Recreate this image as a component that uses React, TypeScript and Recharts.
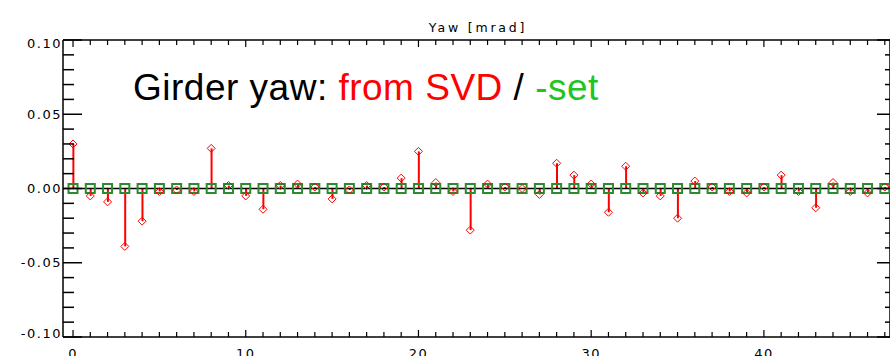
import React from 'react';
import { ComposedChart, XAxis, YAxis, Bar, Scatter, ReferenceLine } from 'recharts';

// girder number along the line
const girderIndex = [
  0, 1, 2, 3, 4, 5, 6, 7, 8, 9, 10, 11, 12, 13, 14, 15, 16, 17, 18, 19, 20, 21, 22, 23,
  24, 25, 26, 27, 28, 29, 30, 31, 32, 33, 34, 35, 36, 37, 38, 39, 40, 41, 42, 43, 44, 45, 46, 47,
];

// yaw reconstructed from SVD [mrad]
const svdYaw = [
  0.030, -0.005, -0.009, -0.039, -0.022, -0.002, -0.001, -0.002, 0.027, 0.002, -0.005, -0.014,
  0.002, 0.003, 0.001, -0.007, -0.001, 0.002, 0.001, 0.007, 0.025, 0.004, -0.002, -0.028,
  0.003, 0.001, 0.000, -0.004, 0.017, 0.009, 0.003, -0.016, 0.015, -0.003, -0.005, -0.020,
  0.005, 0.001, -0.002, -0.003, 0.001, 0.009, -0.002, -0.013, 0.004, -0.002, -0.003, 0.001,
];

// minus the set yaw [mrad]
const setYaw = [
  0, 0, 0, 0, 0, 0, 0, 0, 0, 0, 0, 0, 0, 0, 0, 0, 0, 0, 0, 0, 0, 0, 0, 0,
  0, 0, 0, 0, 0, 0, 0, 0, 0, 0, 0, 0, 0, 0, 0, 0, 0, 0, 0, 0, 0, 0, 0, 0,
];

const xTicks = girderIndex;
const yTicks = [
  -0.1, -0.09, -0.08, -0.07, -0.06, -0.05, -0.04, -0.03, -0.02, -0.01, 0,
  0.01, 0.02, 0.03, 0.04, 0.05, 0.06, 0.07, 0.08, 0.09, 0.1,
];

const data = girderIndex.map((g, i) => ({ idx: g, svd: svdYaw[i], set: setYaw[i] }));

const FONT = '"DejaVu Sans", sans-serif';
const RED = '#ff0000';
const GREEN = '#2a8c2a';

const isMajorY = (v: number) => Math.round(v * 100) % 5 === 0;

const BottomTick = ({ x, y, payload }: any) => {
  const major = payload.value % 10 === 0;
  return (
    <g>
      <line x1={x} x2={x} y1={y} y2={y - (major ? 7 : 5)} stroke="#000" strokeWidth={1.2} />
      {major && (
        <text x={x} y={y + 21} textAnchor="middle" fontSize={13} fontFamily={FONT} letterSpacing={1.5}>
          {payload.value}
        </text>
      )}
    </g>
  );
};

const TopTick = ({ x, y, payload }: any) => {
  const major = payload.value % 10 === 0;
  return <line x1={x} x2={x} y1={y} y2={y + (major ? 7 : 5)} stroke="#000" strokeWidth={1.2} />;
};

const LeftTick = ({ x, y, payload }: any) => {
  const v = payload.value;
  const major = isMajorY(v);
  const off = v > 0.095 ? 3 : v < -0.095 ? -3.5 : 0;
  return (
    <g>
      <line x1={x} x2={x + (major ? 19 : 11)} y1={y} y2={y} stroke="#000" strokeWidth={1.5} />
      {major && (
        <text x={x - 1} y={y + off} textAnchor="end" dominantBaseline="central" fontSize={13}
          fontFamily={FONT} letterSpacing={1.5}>
          {v.toFixed(2)}
        </text>
      )}
    </g>
  );
};

const RightTick = ({ x, y, payload }: any) => {
  const major = isMajorY(payload.value);
  return <line x1={x} x2={x - (major ? 13 : 5)} y1={y} y2={y} stroke="#000" strokeWidth={1.5} />;
};

const Diamond = ({ cx, cy }: any) => (
  <path d={`M${cx},${cy - 4} L${cx + 4},${cy} L${cx},${cy + 4} L${cx - 4},${cy} Z`}
    fill="none" stroke={RED} strokeWidth={1} />
);

const Square = ({ cx, cy }: any) => (
  <rect x={cx - 4.5} y={cy - 4.5} width={9} height={9} fill="none" stroke={GREEN} strokeWidth={2} />
);

const Empty = () => <g />;

const axisLine = { stroke: '#000', strokeWidth: 1.5 };

export default function App() {
  return (
    <div style={{ position: 'absolute', left: 0, top: 0, width: 890, height: 356, overflow: 'hidden', background: '#fff' }}>
      <ComposedChart width={892} height={356} data={data} margin={{ top: 39, right: 1, bottom: 0, left: 0 }}>
        <XAxis dataKey="idx" type="number" domain={[-0.58, 47.3]} ticks={xTicks} interval={0}
          allowDataOverflow tick={BottomTick} tickLine={false} tickSize={0} tickMargin={0}
          height={19} axisLine={axisLine} />
        <XAxis xAxisId="top" dataKey="idx" orientation="top" type="number" domain={[-0.58, 47.3]}
          ticks={xTicks} interval={0} allowDataOverflow tick={TopTick} tickLine={false} tickSize={0}
          tickMargin={0} height={1} axisLine={axisLine} />
        <YAxis type="number" domain={[-0.1, 0.1]} ticks={yTicks} interval={0} allowDataOverflow
          tick={LeftTick} tickLine={false} tickSize={0} tickMargin={0} width={63} axisLine={axisLine} />
        <YAxis yAxisId="right" orientation="right" type="number" domain={[-0.1, 0.1]} ticks={yTicks}
          interval={0} allowDataOverflow tick={RightTick} tickLine={false} tickSize={0} tickMargin={0}
          width={1} axisLine={axisLine} />
        <ReferenceLine y={0} stroke="#000" strokeWidth={1.5} />
        <Scatter xAxisId="top" yAxisId="right" dataKey="set" shape={Empty} isAnimationActive={false} />
        <Scatter dataKey="set" shape={Square} isAnimationActive={false} />
        <Bar dataKey="svd" barSize={2} fill={RED} isAnimationActive={false} />
        <Scatter dataKey="svd" shape={Diamond} isAnimationActive={false} />
      </ComposedChart>
      <svg width={890} height={356} style={{ position: 'absolute', left: 0, top: 0, pointerEvents: 'none' }}>
        <text x={478} y={32} textAnchor="middle" fontSize={12.5} fontFamily={FONT} letterSpacing={2.8}>
          Yaw [mrad]
        </text>
        <text x={133} y={100} fontSize={37} fontFamily='"Liberation Sans", Arial, sans-serif' letterSpacing={0.5}>
          <tspan fill="#000">Girder yaw: </tspan>
          <tspan fill={RED}>from SVD</tspan>
          <tspan fill="#000"> / </tspan>
          <tspan fill="#22c422">-set</tspan>
        </text>
      </svg>
    </div>
  );
}
